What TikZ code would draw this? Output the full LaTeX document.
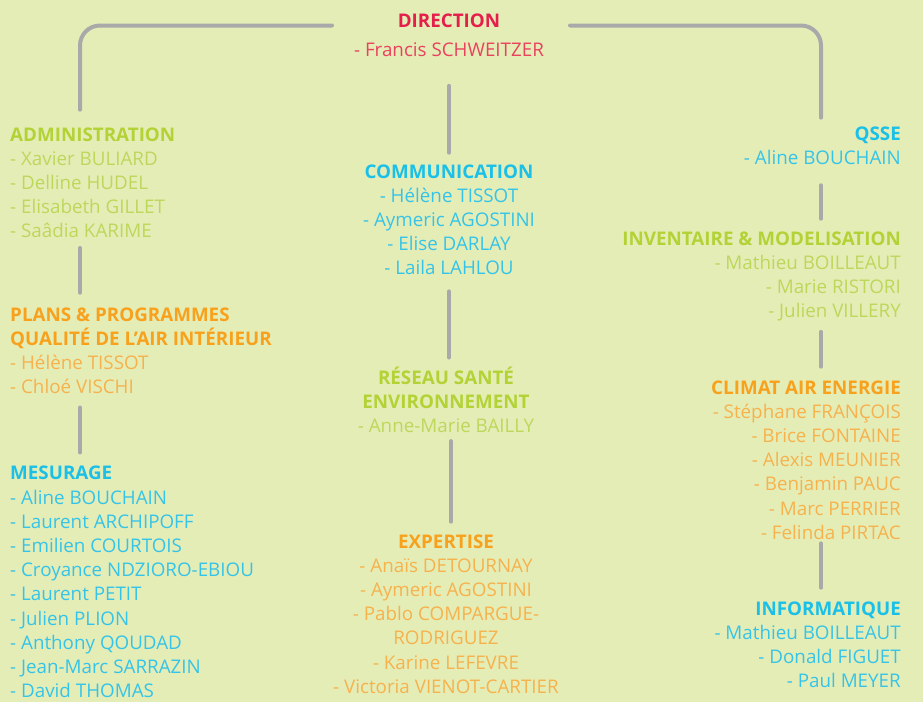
\documentclass[tikz,border=0pt]{standalone}
\usepackage{fontspec}
\setmainfont{Open Sans}
\usepackage{xcolor}
\usepackage{tikz}

\definecolor{fond}{HTML}{E5EDB7}
\definecolor{trait}{HTML}{A9A9AA}
\definecolor{rouge}{HTML}{E41F4B}
\definecolor{rougeclair}{HTML}{E9425F}
\definecolor{vert}{HTML}{B3D236}
\definecolor{vertclair}{HTML}{BDD75B}
\definecolor{orange}{HTML}{F7A11C}
\definecolor{orangeclair}{HTML}{F6B24D}
\definecolor{bleu}{HTML}{1AC0E8}
\definecolor{bleuclair}{HTML}{35C4E8}

\begin{document}
\begin{tikzpicture}[x=1pt, y=-1pt,
  pole/.style={inner sep=0pt, font=\fontsize{18.8}{24.2}\selectfont},
  gauche/.style={pole, align=left, anchor=base west},
  centre/.style={pole, align=center, anchor=base},
  droite/.style={pole, align=right, anchor=base east},
  link/.style={draw=trait, line width=4pt, line cap=round}]
\fill[fond] (0,0) rectangle (923,702);
\useasboundingbox (0,0) rectangle (923,702);

% colonne de gauche (ancre sur la derniere ligne)
\node[gauche, text=vertclair] (admin) at (10,237.8) {{\color{vert}\bfseries ADMINISTRATION}\\- Xavier BULIARD\\- Delline HUDEL\\- Elisabeth GILLET\\- Saâdia KARIME};
\node[gauche, text=orangeclair] (plans) at (10,393.6) {{\color{orange}\bfseries PLANS \& PROGRAMMES}\\{\color{orange}\bfseries QUALITÉ DE L’AIR INTÉRIEUR}\\- Hélène TISSOT\\- Chloé VISCHI};
\node[gauche, text=bleuclair] (mesurage) at (10,697.6) {{\color{bleu}\bfseries MESURAGE}\\- Aline BOUCHAIN\\- Laurent ARCHIPOFF\\- Emilien COURTOIS\\- Croyance NDZIORO-EBIOU\\- Laurent PETIT\\- Julien PLION\\- Anthony QOUDAD\\- Jean-Marc SARRAZIN\\- David THOMAS};

% colonne du centre
\node[centre, text=rougeclair] (direction) at (449,56) {{\color{rouge}\bfseries DIRECTION}\\[4.3pt]- Francis SCHWEITZER};
\node[centre, text=bleuclair] (comm) at (449,274.8) {{\color{bleu}\bfseries COMMUNICATION}\\- Hélène TISSOT\\- Aymeric AGOSTINI\\- Elise DARLAY\\- Laila LAHLOU};
\node[centre, text=vertclair] (reseau) at (446,432.4) {{\color{vert}\bfseries RÉSEAU SANTÉ}\\{\color{vert}\bfseries ENVIRONNEMENT}\\- Anne-Marie BAILLY};
\node[centre, text=orangeclair] (expertise) at (446,693.2) {{\color{orange}\bfseries EXPERTISE}\\- Anaïs DETOURNAY\\- Aymeric AGOSTINI\\- Pablo COMPARGUE-\\RODRIGUEZ\\- Karine LEFEVRE\\- Victoria VIENOT-CARTIER};

% colonne de droite
\node[droite, text=bleuclair] (qsse) at (901,164.2) {{\color{bleu}\bfseries QSSE}\\- Aline BOUCHAIN};
\node[droite, text=vertclair] (inventaire) at (901,317.6) {{\color{vert}\bfseries INVENTAIRE \& MODELISATION}\\- Mathieu BOILLEAUT\\- Marie RISTORI\\- Julien VILLERY};
\node[droite, text=orangeclair] (climat) at (901,539.2) {{\color{orange}\bfseries CLIMAT AIR ENERGIE}\\- Stéphane FRANÇOIS\\- Brice FONTAINE\\- Alexis MEUNIER\\- Benjamin PAUC\\- Marc PERRIER\\- Felinda PIRTAC};
\node[droite, text=bleuclair] (info) at (901,687.6) {{\color{bleu}\bfseries INFORMATIQUE}\\- Mathieu BOILLEAUT\\- Donald FIGUET\\- Paul MEYER};

% axes des traits
\coordinate (lx) at (80,0);
\coordinate (cx) at (449,0);
\coordinate (rx) at (821,0);
\coordinate (dirg) at (332,25.5);
\coordinate (dird) at (570,25.5);

\draw[link, rounded corners=20pt] ([yshift=17.5pt]admin.north -| lx) |- (dirg);
\draw[link, rounded corners=20pt] (dird) -| ([yshift=8.5pt]qsse.north -| rx);

\draw[link, shorten <=9.8pt, shorten >=14.5pt] (admin.south -| lx) -- (plans.north -| lx);
\draw[link, shorten <=13.5pt, shorten >=13.5pt] (plans.south -| lx) -- (mesurage.north -| lx);

\draw[link, shorten <=29.5pt, shorten >=11.5pt] (direction.south -| cx) -- (comm.north -| cx);
\draw[link, shorten <=16.2pt, shorten >=8.8pt] (comm.south -| cx) -- (reseau.north -| cx);
\draw[link, shorten <=8.3pt, shorten >=12.5pt] ([xshift=2pt]reseau.south -| cx) -- ([xshift=2pt]expertise.north -| cx);

\draw[link, shorten <=20.7pt, shorten >=12.5pt] (qsse.south -| rx) -- (inventaire.north -| rx);
\draw[link, shorten <=10.5pt, shorten >=13.5pt] (inventaire.south -| rx) -- (climat.north -| rx);
\draw[link, shorten <=3.8pt, shorten >=13.5pt] (climat.south -| rx) -- (info.north -| rx);
\end{tikzpicture}
\end{document}
